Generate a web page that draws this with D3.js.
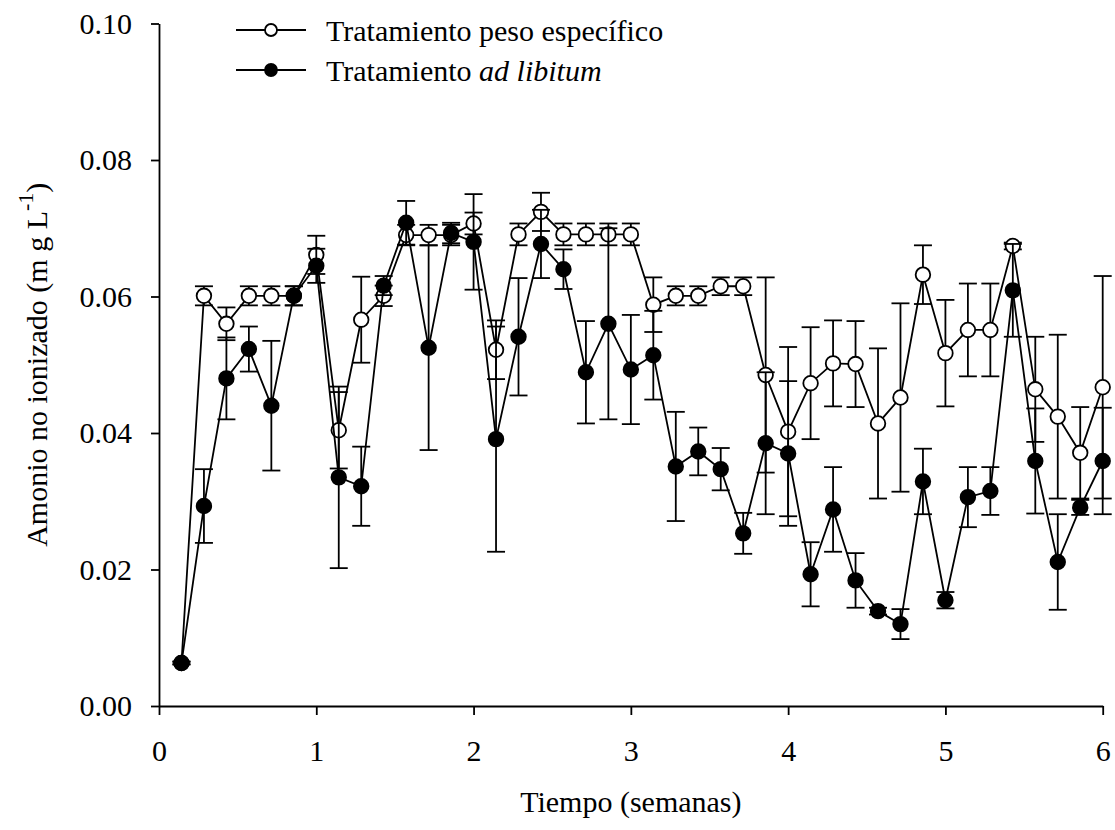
<!DOCTYPE html>
<html>
<head>
<meta charset="utf-8">
<script src="https://cdn.jsdelivr.net/npm/d3@7/dist/d3.min.js"></script>
<style>
  html, body { margin: 0; padding: 0; background: #fff; }
  svg { display: block; }
  text { font-family: "Liberation Serif", "Times New Roman", serif; fill: #000; }
</style>
</head>
<body>
<svg id="chart" width="1115" height="830"></svg>
<script>
// Day of sampling (x axis shown in weeks: 7 days = 1 week)
const days = [1,2,3,4,5,6,7,8,9,10,11,12,13,14,15,16,17,18,19,20,21,
              22,23,24,25,26,27,28,29,30,31,32,33,34,35,36,37,38,39,40,41,42];

// Tratamiento peso específico (open circles)
const pesoMean = [0.0063,0.0601,0.0560,0.0601,0.0601,0.0601,0.0661,0.0404,0.0566,0.0601,
                  0.0690,0.0690,0.0690,0.0707,0.0522,0.0691,0.0724,0.0691,0.0691,0.0691,
                  0.0691,0.0588,0.0601,0.0601,0.0615,0.0615,0.0485,0.0402,0.0473,0.0502,
                  0.0501,0.0414,0.0452,0.0632,0.0517,0.0551,0.0551,0.0674,0.0464,0.0424,
                  0.0371,0.0467];
const pesoErr  = [0.0002,0.0014,0.0024,0.0014,0.0014,0.0014,0.0028,0.0056,0.0063,0.0015,
                  0.0015,0.0015,0.0015,0.0016,0.0043,0.0016,0.0028,0.0016,0.0016,0.0016,
                  0.0016,0.0040,0.0014,0.0014,0.0013,0.0013,0.0143,0.0124,0.0082,0.0063,
                  0.0063,0.0110,0.0138,0.0043,0.0078,0.0068,0.0068,0.0005,0.0077,0.0120,
                  0.0067,0.0163];

// Tratamiento ad libitum (filled circles)
const adlibMean = [0.0063,0.0293,0.0480,0.0523,0.0440,0.0601,0.0645,0.0335,0.0322,0.0616,
                   0.0708,0.0525,0.0693,0.0680,0.0391,0.0541,0.0677,0.0640,0.0489,0.0560,
                   0.0493,0.0514,0.0351,0.0373,0.0347,0.0253,0.0385,0.0370,0.0193,0.0288,
                   0.0184,0.0139,0.0120,0.0329,0.0155,0.0306,0.0315,0.0609,0.0359,0.0211,
                   0.0291,0.0359];
const adlibErr  = [0.0002,0.0054,0.0060,0.0033,0.0095,0.0014,0.0025,0.0133,0.0058,0.0014,
                   0.0032,0.0150,0.0015,0.0070,0.0165,0.0086,0.0050,0.0029,0.0075,0.0140,
                   0.0080,0.0065,0.0080,0.0035,0.0031,0.0030,0.0104,0.0106,0.0047,0.0062,
                   0.0040,0.0005,0.0022,0.0048,0.0012,0.0044,0.0035,0.0068,0.0077,0.0070,
                   0.0011,0.0078];

const xTickDays   = [0, 7, 14, 21, 28, 35, 42];
const xTickLabels = ["0", "1", "2", "3", "4", "5", "6"];
const yTicks      = [0, 0.02, 0.04, 0.06, 0.08, 0.10];

const seriesNames = ["Tratamiento peso específico", "Tratamiento "];

// ---------- layout ----------
const svg = d3.select("#chart");
const X0 = 159, X1 = 1102.7, Y0 = 706, Y1 = 23.5;
const FS = 30;
const SW = 1.8;

const x = d3.scaleLinear().domain([0, 42]).range([X0, X1]);
const y = d3.scaleLinear().domain([0, 0.10]).range([Y0, Y1]);

// axes
const xAxis = d3.axisBottom(x).tickValues(xTickDays)
  .tickFormat((d, i) => xTickLabels[i]).tickSizeInner(9).tickSizeOuter(0).tickPadding(17);
const yAxis = d3.axisLeft(y).tickValues(yTicks)
  .tickFormat(d3.format(".2f")).tickSizeInner(8).tickSizeOuter(0).tickPadding(19);

const gx = svg.append("g").attr("transform", `translate(0,${Y0})`).call(xAxis);
const gy = svg.append("g").attr("transform", `translate(${X0},0)`).call(yAxis);
[gx, gy].forEach(g => {
  g.selectAll("path, line").attr("stroke", "#000").attr("stroke-width", SW);
  g.selectAll("text").style("font-family", '"Liberation Serif", serif').style("font-size", FS + "px").attr("fill", "#000");
});
gx.selectAll("text").attr("dy", "0.95em");

// axis titles
svg.append("text")
  .attr("x", (X0 + X1) / 2).attr("y", 812)
  .attr("text-anchor", "middle").style("font-size", FS + "px")
  .text("Tiempo (semanas)");

const yt = svg.append("text")
  .attr("transform", `translate(47,${(Y0 + Y1) / 2}) rotate(-90)`)
  .attr("text-anchor", "middle").style("font-size", FS + "px");
yt.append("tspan").text("Amonio no ionizado (m g L");
yt.append("tspan").attr("dy", -14).style("font-size", "22px").text("-1");
yt.append("tspan").attr("dy", 14).text(")");

// ---------- data ----------
function build(means, errs) {
  return days.map((d, i) => ({ d, v: means[i], e: errs[i] }));
}
const peso = build(pesoMean, pesoErr);
const adlib = build(adlibMean, adlibErr);

const capHalf = 9;
const line = d3.line().x(p => x(p.d)).y(p => y(p.v));

function drawSeries(data, fill) {
  const g = svg.append("g");
  // error bars
  const eb = g.selectAll("g.eb").data(data).join("g");
  eb.append("line")
    .attr("x1", p => x(p.d)).attr("x2", p => x(p.d))
    .attr("y1", p => y(p.v + p.e)).attr("y2", p => y(p.v - p.e))
    .attr("stroke", "#000").attr("stroke-width", SW);
  eb.append("line")
    .attr("x1", p => x(p.d) - capHalf).attr("x2", p => x(p.d) + capHalf)
    .attr("y1", p => y(p.v + p.e)).attr("y2", p => y(p.v + p.e))
    .attr("stroke", "#000").attr("stroke-width", SW);
  eb.append("line")
    .attr("x1", p => x(p.d) - capHalf).attr("x2", p => x(p.d) + capHalf)
    .attr("y1", p => y(p.v - p.e)).attr("y2", p => y(p.v - p.e))
    .attr("stroke", "#000").attr("stroke-width", SW);
  // line
  g.append("path").datum(data).attr("d", line)
    .attr("fill", "none").attr("stroke", "#000").attr("stroke-width", SW);
  // markers
  g.selectAll("circle").data(data).join("circle")
    .attr("cx", p => x(p.d)).attr("cy", p => y(p.v)).attr("r", 7.3)
    .attr("fill", fill).attr("stroke", "#000").attr("stroke-width", SW);
}
drawSeries(peso, "#fff");
drawSeries(adlib, "#000");

// ---------- legend ----------
const legend = svg.append("g");
const legRows = [{ y: 30, fill: "#fff" }, { y: 70, fill: "#000" }];
legRows.forEach((r, i) => {
  legend.append("line").attr("x1", 236).attr("x2", 306).attr("y1", r.y).attr("y2", r.y)
    .attr("stroke", "#000").attr("stroke-width", SW);
  legend.append("circle").attr("cx", 271).attr("cy", r.y).attr("r", 6)
    .attr("fill", r.fill).attr("stroke", "#000").attr("stroke-width", SW);
  const t = legend.append("text").attr("x", 326).attr("y", r.y + 10.5)
    .style("font-size", FS + "px").text(seriesNames[i]);
  if (i === 1) t.append("tspan").style("font-style", "italic").text("ad libitum");
});
</script>
</body>
</html>
